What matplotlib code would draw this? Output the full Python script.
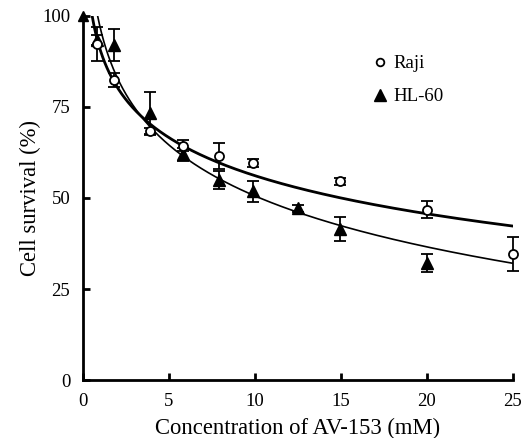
import numpy as np
import matplotlib
matplotlib.use("Agg")
import matplotlib.pyplot as plt
from matplotlib.lines import Line2D

plt.rcParams['font.family'] = ['Liberation Serif', 'DejaVu Serif']

# Raji (open circles)
raji_x = [0.83, 1.82, 3.9, 5.84, 7.94, 9.9, 14.96, 20.0, 25.0]
raji_y = [92.3, 82.4, 68.3, 64.3, 61.5, 59.6, 54.6, 46.8, 34.6]
raji_err = [4.6, 1.9, 1.0, 1.5, 3.6, 1.0, 1.0, 2.3, 4.6]

# HL-60 (filled triangles)
hl_x = [0.83, 1.82, 3.9, 5.84, 7.94, 9.9, 12.5, 14.96, 20.0]
hl_y = [93.4, 92.0, 73.3, 62.0, 55.0, 51.8, 47.2, 41.5, 32.1]
hl_err = [1.5, 4.4, 5.7, 1.8, 2.5, 2.8, 1.0, 3.2, 2.4]

xticks = [0, 5, 10, 15, 20, 25]
yticks = [0, 25, 50, 75, 100]

fig = plt.figure(figsize=(5.29, 4.38), dpi=100)
ax = fig.add_axes([0.1563, 0.1324, 0.8129, 0.8311])

# logarithmic trend lines fitted to the data
def logfit(x, y):
    b, a = np.polyfit(np.log(x), y, 1)
    return a, b

xs = np.linspace(0.3, 25, 400)
for (x, y, lw) in [(raji_x, raji_y, 2.0), (hl_x, hl_y, 1.2)]:
    a, b = logfit(np.array(x), np.array(y))
    ys = a + b * np.log(xs)
    m = ys <= 100.5
    ax.plot(xs[m], ys[m], color='black', lw=lw, zorder=2)

ax.errorbar(raji_x, raji_y, yerr=raji_err, fmt='o', ms=6.5, mfc='white', mec='black',
            mew=1.3, ecolor='black', elinewidth=1.3, capsize=4.5, capthick=1.3,
            clip_on=False, zorder=4)
ax.errorbar(hl_x, hl_y, yerr=hl_err, fmt='^', ms=8, mfc='black', mec='black',
            ecolor='black', elinewidth=1.3, capsize=4.5, capthick=1.3,
            clip_on=False, zorder=3)

ax.set_xlim(0, 25)
ax.set_ylim(0, 100)
ax.set_xticks(xticks)
ax.set_yticks(yticks)
ax.spines['top'].set_visible(False)
ax.spines['right'].set_visible(False)
ax.spines['left'].set_linewidth(2)
ax.spines['bottom'].set_linewidth(2)
ax.tick_params(direction='in', length=5, width=2, labelsize=13.5, pad=9)

# arrow head on the y axis
ax.plot([0], [1.0], marker='^', ms=7, color='black', transform=ax.transAxes,
        clip_on=False, zorder=5)

ax.set_xlabel('Concentration of AV-153 (mM)', fontsize=16.3, labelpad=6)
ax.set_ylabel('Cell survival (%)', fontsize=16.3, labelpad=1)

handles = [Line2D([], [], ls='none', marker='o', ms=5.5, mfc='white', mec='black', mew=1.3),
           Line2D([], [], ls='none', marker='^', ms=8.5, mfc='black', mec='black')]
ax.legend(handles, ['Raji', 'HL-60'], loc='upper left', bbox_to_anchor=(0.674, 0.893),
          frameon=False, fontsize=13.6, handlelength=0.8, handletextpad=0.3,
          labelspacing=0.85, borderpad=0, borderaxespad=0)

fig.savefig('out.png', dpi=100)
